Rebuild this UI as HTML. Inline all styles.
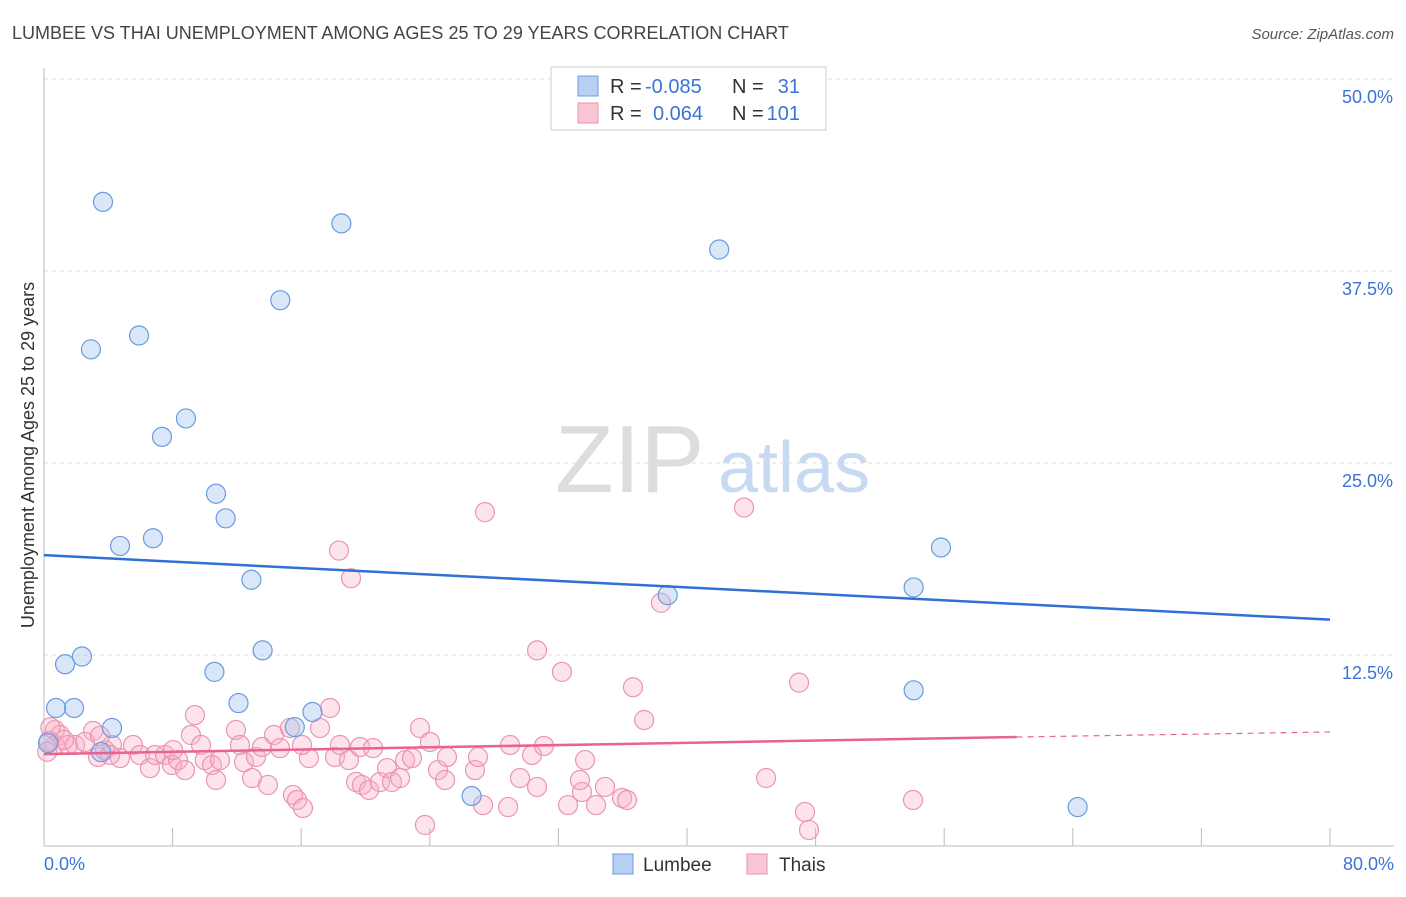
<!DOCTYPE html>
<html><head><meta charset="utf-8"><style>
body{margin:0;background:#fff;font-family:"Liberation Sans",sans-serif}
svg text{font-family:"Liberation Sans",sans-serif}
</style></head><body>
<svg id="c" width="1406" height="892">
<text x="12" y="39" font-size="18" fill="#444">LUMBEE VS THAI UNEMPLOYMENT AMONG AGES 25 TO 29 YEARS CORRELATION CHART</text>
<text x="1394" y="39" font-size="15" fill="#555" text-anchor="end" font-style="italic">Source: ZipAtlas.com</text>
<text x="555" y="492" font-size="96" fill="#ddd" font-family="Liberation Serif,serif">ZIP</text>
<text x="718" y="492" font-size="72" fill="#c8daf2">atlas</text>
<text transform="translate(34,455) rotate(-90)" font-size="18" fill="#333" text-anchor="middle">Unemployment Among Ages 25 to 29 years</text>
<g id="grid"></g><g id="marks"></g>
<g>
<rect x="551" y="67" width="275" height="63" fill="#fff" stroke="#ccc"/>
<rect x="578" y="76" width="20" height="20" fill="#b7d0f3" stroke="#6a9be0"/>
<rect x="578" y="103" width="20" height="20" fill="#f9c6d5" stroke="#e890ad"/>
<g font-size="20" fill="#333">
<text x="610" y="93">R =</text><text x="645" y="93" fill="#3b73d6">-0.085</text><text x="732" y="93">N =</text><text x="800" y="93" fill="#3b73d6" text-anchor="end">31</text>
<text x="610" y="120">R =</text><text x="653" y="120" fill="#3b73d6">0.064</text><text x="732" y="120">N =</text><text x="800" y="120" fill="#3b73d6" text-anchor="end">101</text>
</g>
</g>
<g>
<rect x="613" y="854" width="20" height="20" fill="#b7d0f3" stroke="#6a9be0"/>
<text x="643" y="871" font-size="19" fill="#333">Lumbee</text>
<rect x="747" y="854" width="20" height="20" fill="#f9c6d5" stroke="#e890ad"/>
<text x="779" y="871" font-size="19" fill="#333">Thais</text>
</g>
</svg>
<script>
const yTicks=[12.5,25,37.5,50];
const yTickLabels=["12.5%","25.0%","37.5%","50.0%"];
const xTickLabels=["0.0%","80.0%"];
const lumbeeX=[3.67,18.5,42.0,14.7,2.92,5.91,8.83,7.34,10.7,11.3,4.73,6.78,12.9,13.6,2.36,1.31,10.6,12.1,0.75,1.87,4.23,3.55,15.6,16.7,38.8,54.1,55.8,54.1,26.6,64.3,0.25];
const lumbeeY=[42.0,40.6,38.9,35.6,32.4,33.3,27.9,26.7,23.0,21.4,19.6,20.1,17.4,12.8,12.4,11.9,11.4,9.37,9.05,9.05,7.75,6.18,7.81,8.79,16.4,16.9,19.5,10.2,3.32,2.60,6.77];
const thaiX=[0.68,0.68,1.0,1.49,1.93,3.05,2.55,3.36,3.79,4.23,4.73,5.54,5.97,6.59,6.91,7.53,7.96,8.34,8.77,9.39,9.14,9.77,10.0,10.45,10.7,10.95,11.94,12.19,12.44,12.94,13.19,13.56,13.93,14.31,14.68,15.3,15.49,15.74,16.11,16.48,17.17,17.79,18.1,18.41,18.97,19.41,19.78,19.66,20.22,20.47,20.9,21.34,21.65,22.15,22.46,22.89,23.39,24.01,23.7,24.51,24.95,25.07,26.81,27.0,27.31,27.43,28.87,28.99,29.61,30.36,30.67,31.1,32.22,33.47,32.6,33.34,33.66,34.34,34.9,35.96,36.27,36.64,37.33,38.38,43.55,30.67,44.92,46.97,47.34,47.59,54.06,19.1,18.35,16.05,8.03,3.48,1.24,4.11,0.4,0.3,0.2];
const thaiY=[7.62,6.64,7.29,6.64,6.64,7.55,6.84,5.86,6.31,6.64,5.79,6.64,5.99,5.14,5.99,5.99,5.34,5.66,5.01,8.59,7.29,6.64,5.66,5.34,4.36,5.66,7.62,6.64,5.53,4.49,5.86,6.51,4.04,7.29,6.44,7.75,3.39,3.06,2.54,5.79,7.75,9.05,5.86,6.64,5.66,4.23,4.04,6.51,3.71,6.44,4.23,5.14,4.23,4.49,5.66,5.79,7.75,6.84,1.43,5.01,4.36,5.86,5.01,5.86,2.73,21.8,2.60,6.64,4.49,5.99,3.91,6.58,11.4,3.58,2.73,4.36,5.66,2.73,3.91,3.19,3.06,10.4,8.27,15.9,22.1,12.8,4.49,10.7,2.28,1.11,3.06,17.5,19.3,6.64,6.31,7.23,6.97,5.99,7.8,6.9,6.2];
const lumbeeTrend=[19.0,14.8];
const thaiTrend=[6.05,7.16,7.49];
const thaiTrendSolidEnd=60.5;
const X0=44,X1=1330,Y0=847,YPX=192/12.5;
const sx=v=>X0+(X1-X0)*v/80, sy=v=>Y0-v*YPX;
const NS="http://www.w3.org/2000/svg";
function mk(tag,attrs,parent){const e=document.createElementNS(NS,tag);for(const k in attrs)e.setAttribute(k,attrs[k]);parent.appendChild(e);return e;}
const grid=document.getElementById('grid'),marks=document.getElementById('marks');
yTicks.forEach((t,i)=>{
 const l=mk('line',{x1:X0,x2:1394,y1:sy(t),y2:sy(t),stroke:'#ddd','stroke-dasharray':'4,4'},grid);
 
 
 const tx=mk('text',{x:1393,y:sy(t)+24,'font-size':18,fill:'#3b73d6','text-anchor':'end'},grid);
 tx.textContent=yTickLabels[i];
 
 
});
const ax=mk('line',{x1:X0,x2:X0,y1:68,y2:846,stroke:'#bbb'},grid);


const bx=mk('line',{x1:X0,x2:1394,y1:846,y2:846,stroke:'#bbb'},grid);


for(let i=1;i<=10;i++){const t=mk('line',{x1:sx(i*8),x2:sx(i*8),y1:828,y2:846,stroke:'#bbb'},grid);
 
 }
[[0,'start',44],[80,'end',1394]].forEach((d,i)=>{const t=mk('text',{x:d[2],y:870,'font-size':18,fill:'#3b73d6','text-anchor':d[1]},grid);t.textContent=xTickLabels[i];
 
 });
thaiX.forEach((x,i)=>{const c=mk('circle',{cx:sx(x),cy:sy(thaiY[i]),r:9.5,fill:'rgba(248,175,198,0.35)',stroke:'#ea95b2','stroke-width':1.2},marks);
 
 });
lumbeeX.forEach((x,i)=>{const c=mk('circle',{cx:sx(x),cy:sy(lumbeeY[i]),r:9.5,fill:'rgba(160,195,240,0.4)',stroke:'#6a9be0','stroke-width':1.2},marks);
 
 });
const lt=mk('line',{x1:sx(0),y1:sy(lumbeeTrend[0]),x2:sx(80),y2:sy(lumbeeTrend[1]),stroke:'#2f6fd6','stroke-width':2.5},marks);


const tt=mk('line',{x1:sx(0),y1:sy(thaiTrend[0]),x2:sx(thaiTrendSolidEnd),y2:sy(thaiTrend[1]),stroke:'#e8648f','stroke-width':2.5},marks);


const td=mk('line',{x1:sx(thaiTrendSolidEnd),y1:sy(thaiTrend[1]),x2:sx(80),y2:sy(thaiTrend[2]),stroke:'#e8648f','stroke-width':1.2,'stroke-dasharray':'6,5'},marks);


</script>
</body></html>
